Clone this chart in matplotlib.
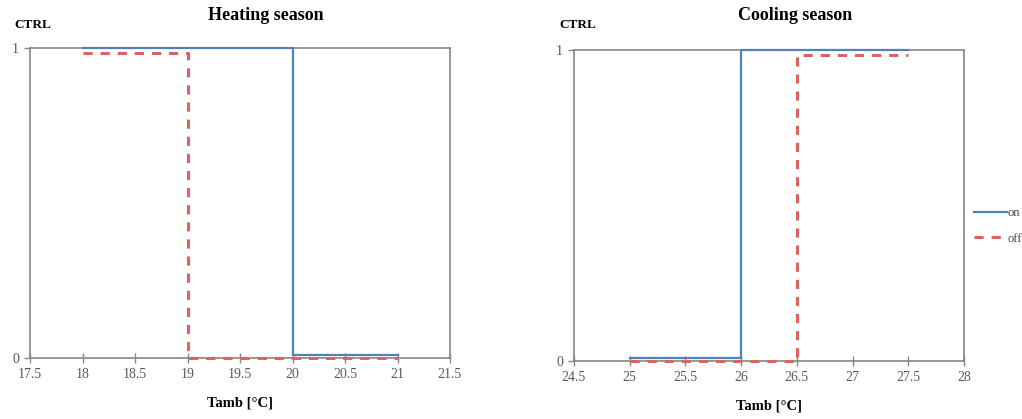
import matplotlib.pyplot as plt
import numpy as np

# Heating season control signal
heat_on_x = [18, 20, 20, 21]
heat_on_y = [1, 1, 0.01, 0.01]
heat_off_x = [18, 19, 19, 21]
heat_off_y = [0.985, 0.985, 0, 0]
heat_ticks = [17.5, 18, 18.5, 19, 19.5, 20, 20.5, 21, 21.5]

# Cooling season control signal
cool_on_x = [25, 26, 26, 27.5]
cool_on_y = [0.01, 0.01, 1, 1]
cool_off_x = [25, 26.5, 26.5, 27.5]
cool_off_y = [0, 0, 0.985, 0.985]
cool_ticks = [24.5, 25, 25.5, 26, 26.5, 27, 27.5, 28]

BLUE = "#4F81BD"
RED = "#DB6460"
GREY = "#868686"
FONT = "Liberation Serif"

fig = plt.figure(figsize=(10.22, 4.19), dpi=100)
ax1 = fig.add_axes([30/1022, 61/419, 420/1022, 310/419])
ax2 = fig.add_axes([574/1022, 58/419, 390/1022, 311/419])


def style_axis(ax, ticks):
    ax.set_xlim(ticks[0], ticks[-1])
    ax.set_ylim(0, 1)
    ax.set_xticks(ticks)
    ax.set_xticklabels([f"{t:g}" for t in ticks], fontsize=10, color="#595959", family=FONT)
    ax.set_yticks([0, 1])
    ax.set_yticklabels(["0", "1"], fontsize=10, color="#595959", family=FONT)
    for s in ax.spines.values():
        s.set_color(GREY)
        s.set_linewidth(1.2)
    ax.tick_params(axis="x", direction="inout", length=7, color=GREY, width=1, pad=4)
    ax.tick_params(axis="y", direction="out", length=4, color=GREY, width=1, pad=4)
    ax.set_xlabel("Tamb [°C]", fontsize=10.5, fontweight="bold", family=FONT, labelpad=11)


ax1.plot(heat_on_x, heat_on_y, color=BLUE, lw=1.6, label="on", clip_on=False, zorder=3)
ax1.plot(heat_off_x, heat_off_y, color=RED, lw=2.2, ls=(0, (3, 2.6)), label="off", clip_on=False, zorder=4)
style_axis(ax1, heat_ticks)

ax2.plot(cool_on_x, cool_on_y, color=BLUE, lw=1.6, label="on", clip_on=False, zorder=3)
ax2.plot(cool_off_x, cool_off_y, color=RED, lw=2.2, ls=(0, (3, 2.6)), label="off", clip_on=False, zorder=4)
style_axis(ax2, cool_ticks)

fig.text(266/1022, 1 - 16/419, "Heating season", ha="center", va="center",
         fontsize=13, fontweight="bold", family=FONT)
fig.text(795/1022, 1 - 16/419, "Cooling season", ha="center", va="center",
         fontsize=13, fontweight="bold", family=FONT)
fig.text(14/1022, 1 - 25/419, "CTRL", ha="left", va="center",
         fontsize=9.5, fontweight="bold", family=FONT)
fig.text(559/1022, 1 - 25/419, "CTRL", ha="left", va="center",
         fontsize=9.5, fontweight="bold", family=FONT)

leg = ax2.legend(loc="center left", bbox_to_anchor=(968/1022, 1 - 226/419),
                 bbox_transform=fig.transFigure, frameon=False,
                 prop={"family": FONT, "size": 9}, handlelength=2.6,
                 handletextpad=0.1, labelspacing=1.1, borderpad=0)
for t in leg.get_texts():
    t.set_color("#404040")

fig.savefig("out.png", dpi=100)
